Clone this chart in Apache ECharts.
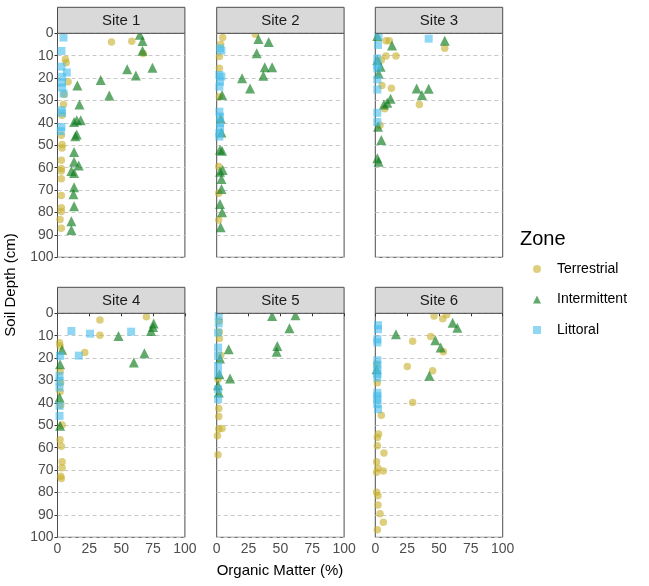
<!DOCTYPE html>
<html>
<head>
<meta charset="utf-8">
<script src="https://cdn.jsdelivr.net/npm/echarts@6/dist/echarts.min.js"></script>
<style>html,body{margin:0;padding:0;background:#fff}#c{width:649px;height:586px}</style>
</head>
<body>
<div id="c"></div>
<script>
// ---- Data: [organic matter %, soil depth cm] ----
const sites = ['Site 1', 'Site 2', 'Site 3', 'Site 4', 'Site 5', 'Site 6'];
const zones = ['Terrestrial', 'Intermittent', 'Littoral'];
const depthTicks = [0, 10, 20, 30, 40, 50, 60, 70, 80, 90, 100];
const omTicks = [0, 25, 50, 75, 100];

const s1Terrestrial = [[42.4,3.9],[58.3,3.6],[67.2,9],[6.2,11.6],[6.8,13.1],[8.3,21.6],[5.2,27.3],[4.7,31.8],[3.6,36.6],[3,45.5],[3.6,49.6],[3.6,51.2],[3,56.7],[3,60.4],[3,61.5],[3,64.9],[3,72.4],[3,77.9],[3,79.5],[2,83.1],[3,87]];
const s1Intermittent = [[64.6,0.7],[66.7,3.4],[66.7,7.8],[74.5,15.4],[54.7,16],[61.5,18.8],[33.9,20.9],[15.6,23.3],[40.6,27.8],[17.2,31.8],[15.1,38.8],[18.2,38.8],[13,39.6],[15.1,45.2],[14,46],[13,53],[13,57.3],[16.7,59],[10.9,61.5],[13,62.4],[13,68.7],[12.5,71.9],[13,77.2],[10.9,83.9],[10.9,87.8]];
const s1Littoral = [[4.7,1.9],[3.1,7.9],[3.1,14.9],[7.3,17.5],[3.6,19.4],[3.6,22],[3.6,24.2],[4.7,26.9],[3.1,34.3],[3.6,35.5],[3.1,41.8],[2.6,43.7]];

const s2Terrestrial = [[4.7,1.9],[30.4,0.4],[3.1,4.9],[2.1,10.4],[2.1,15.6],[2.1,28.3],[1.6,59.5],[1.6,71.4],[1.6,83.3]];
const s2Intermittent = [[32.7,2.5],[40.8,3.9],[31.4,8.9],[37.7,15.2],[43.5,15.2],[36.6,19],[19.9,20.1],[26.2,24.6],[4.2,27.5],[3.1,38],[3.7,44.3],[2.6,52],[4.2,52.4],[4.7,61],[2.6,61.8],[3.7,65],[3.7,69.5],[2.6,76.2],[4.2,79.9],[3.1,86.6]];
const s2Littoral = [[2.6,6.7],[3.7,7.7],[2.1,18.6],[3.7,19.3],[2.6,21.6],[2.1,23.8],[2.1,35],[2.6,37.2],[2.6,40],[2.6,42.4],[2.1,44.5],[2.1,46.1]];

const s3Terrestrial = [[8.4,3.3],[11,3.3],[54.5,6.7],[8.4,10.1],[16.2,10.1],[4.7,11.9],[5.2,23.3],[12.6,24.5],[34.6,31.8],[7.3,33.7],[3.7,41]];
const s3Intermittent = [[54.5,3.3],[13.1,5.5],[1.6,1.2],[1.6,11.9],[4.2,14.9],[2.6,17.9],[32.5,24.6],[41.9,24.8],[36.6,27.5],[12,29.2],[9.4,31],[6.8,31.8],[2.1,41.7],[4.7,47.6],[1.6,55.8],[2.6,57.3]];
const s3Littoral = [[41.9,2.4],[2.6,1.2],[2.1,5.2],[1.6,11.2],[1.6,14.2],[1.6,15.7],[1.6,20.6],[1.6,25.1],[1.6,35.5],[1.6,39.6]];

const s4Terrestrial = [[69.8,1.5],[33.3,3],[33.3,9.8],[21.4,17.5],[1.6,13.1],[2,14.6],[2,26],[2.5,31],[2,35],[2.5,41],[3.6,49.9],[2,56.5],[3,59.4],[3.6,66.3],[3.6,68.9],[2.6,72.8],[3,73.7]];
const s4Intermittent = [[75.5,4.5],[75,6.1],[73.4,7.9],[47.9,10.1],[68.2,17.8],[59.9,22],[3.6,16.3],[2,22.7],[1.6,37.6],[2,50.2]];
const s4Littoral = [[10.9,7.9],[25.5,9.1],[57.8,8.2],[16.7,18.9],[2,19],[1.6,27.9],[1.6,30.2],[1.6,33.1],[1.6,41.3],[1.6,45.8]];

const s5Terrestrial = [[2.1,3.4],[2.1,8.3],[2.1,11.3],[3.1,18.7],[1,29.4],[1.6,42.5],[1.6,46.1],[4.2,51.4],[1.6,51.7],[0.6,54.7],[1,63.2]];
const s5Intermittent = [[43.5,1.2],[61.8,0.9],[57.1,6.7],[9.4,16],[47.6,14.6],[47.1,17.2],[10.5,29.1],[2.6,20.2],[2.1,27.2],[1,32.1],[1.6,35.4]];
const s5Littoral = [[1.6,1.2],[1.6,4.5],[1.1,8.6],[1.1,15.3],[1.1,19],[1.1,23.5],[1.1,27],[1.1,33.9],[1.1,38.3]];

const s6Terrestrial = [[46.1,1.2],[56,0.6],[52.9,2.4],[29.3,12.5],[43.5,10.4],[53.4,17.2],[25.1,23.8],[45,25.6],[29.3,39.8],[4.7,45.5],[2.6,53.9],[1.6,55.4],[1.6,59.1],[6.8,62.4],[1,66.3],[2.1,69.2],[6.3,70.4],[1,71],[1,79.9],[2.1,81.4],[2.1,85.6],[3.7,89.5],[6.3,93.3],[1.6,96.6],[1.6,31],[1,22.7]];
const s6Intermittent = [[60.7,4.2],[64.4,6.4],[16.2,9.4],[47.1,12],[51.3,15.3],[42.4,27.9],[1,25]];
const s6Littoral = [[2.1,5.3],[2.1,7.1],[1.6,11.6],[1.6,13],[1.6,21],[1.6,23],[1.6,25],[1.6,27],[1.6,28.7],[1.6,35.5],[1.6,37],[1.6,38.5],[1.6,40.5],[2.1,42.8]];

const siteData = [
  [s1Terrestrial, s1Intermittent, s1Littoral],
  [s2Terrestrial, s2Intermittent, s2Littoral],
  [s3Terrestrial, s3Intermittent, s3Littoral],
  [s4Terrestrial, s4Intermittent, s4Littoral],
  [s5Terrestrial, s5Intermittent, s5Littoral],
  [s6Terrestrial, s6Intermittent, s6Littoral]
];

// ---- Styling ----
const FONT = '"Liberation Sans", Arial, sans-serif';
const zoneColors = ['rgba(199,175,40,0.75)', 'rgba(10,120,25,0.8)', 'rgba(69,189,235,0.75)'];
const zoneSymbols = ['circle', 'triangle', 'rect'];
const zoneSizes = [7.5, 10, 8];

const lefts = [57.5, 216.7, 375.3];
const tops = [33.3, 313.3];
const W = 127.4, H = 224;
const stripH = 26;

const grids = [], xAxes = [], yAxes = [], series = [], graphics = [];
sites.forEach((s, i) => {
  const col = i % 3, row = Math.floor(i / 3);
  grids.push({ left: lefts[col], top: tops[row], width: W, height: H, show: true, borderColor: '#4d4d4d', borderWidth: 1, backgroundColor: '#fff', containLabel: false });
  xAxes.push({
    gridIndex: i, type: 'value', min: omTicks[0], max: omTicks[omTicks.length - 1], interval: 25,
    axisLine: { show: false },
    axisTick: { show: row === 1, length: 3, lineStyle: { color: '#333' } },
    axisLabel: { show: row === 1, color: '#4d4d4d', fontSize: 14, fontFamily: FONT, margin: 5 },
    splitLine: { show: false }
  });
  yAxes.push({
    gridIndex: i, type: 'value', inverse: true, min: depthTicks[0], max: depthTicks[depthTicks.length - 1], interval: 10,
    axisLine: { show: false },
    axisTick: { show: col === 0, length: 3, lineStyle: { color: '#333' } },
    axisLabel: { show: col === 0, color: '#4d4d4d', fontSize: 14, fontFamily: FONT, margin: 4 },
    splitLine: { show: true, lineStyle: { color: '#c8c8c8', type: [4, 3], width: 1 } }
  });
  zones.forEach((z, k) => {
    series.push({
      type: 'scatter', name: z, xAxisIndex: i, yAxisIndex: i,
      data: siteData[i][k], symbol: zoneSymbols[k], symbolSize: zoneSizes[k],
      itemStyle: { color: zoneColors[k] }, clip: true, silent: true, z: 2 + k
    });
  });
  // strip
  const sy = tops[row] - stripH;
  graphics.push({ type: 'rect', shape: { x: lefts[col], y: sy, width: W, height: stripH }, style: { fill: '#d9d9d9', stroke: '#4d4d4d', lineWidth: 1 }, z: 10 });
  graphics.push({ type: 'text', x: lefts[col] + W / 2, y: sy + stripH / 2 + 0.5, style: { text: s, fill: '#1a1a1a', font: '15px ' + FONT, textAlign: 'center', textVerticalAlign: 'middle' }, z: 11 });
});

graphics.push({ type: 'text', x: 11, y: 285, rotation: Math.PI / 2, style: { text: 'Soil Depth (cm)', fill: '#000', font: '15px ' + FONT, textAlign: 'center', textVerticalAlign: 'middle' } });
graphics.push({ type: 'text', x: 280, y: 571, style: { text: 'Organic Matter (%)', fill: '#000', font: '15px ' + FONT, textAlign: 'center', textVerticalAlign: 'middle' } });
graphics.push({ type: 'text', x: 520, y: 239, style: { text: 'Zone', fill: '#000', font: '20px ' + FONT, textAlign: 'left', textVerticalAlign: 'middle' } });

const chart = echarts.init(document.getElementById('c'), null, { renderer: 'canvas' });
chart.setOption({
  animation: false,
  backgroundColor: '#fff',
  grid: grids, xAxis: xAxes, yAxis: yAxes, series: series,
  legend: {
    data: zones, orient: 'vertical', left: 528, top: 256,
    itemWidth: 8, itemHeight: 8, itemGap: 14.5, symbolKeepAspect: true,
    textStyle: { fontSize: 14, fontFamily: FONT, color: '#000', lineHeight: 16, padding: [0, 0, 0, 11] },
    selectedMode: false
  },
  graphic: graphics
});
</script>
</body>
</html>
